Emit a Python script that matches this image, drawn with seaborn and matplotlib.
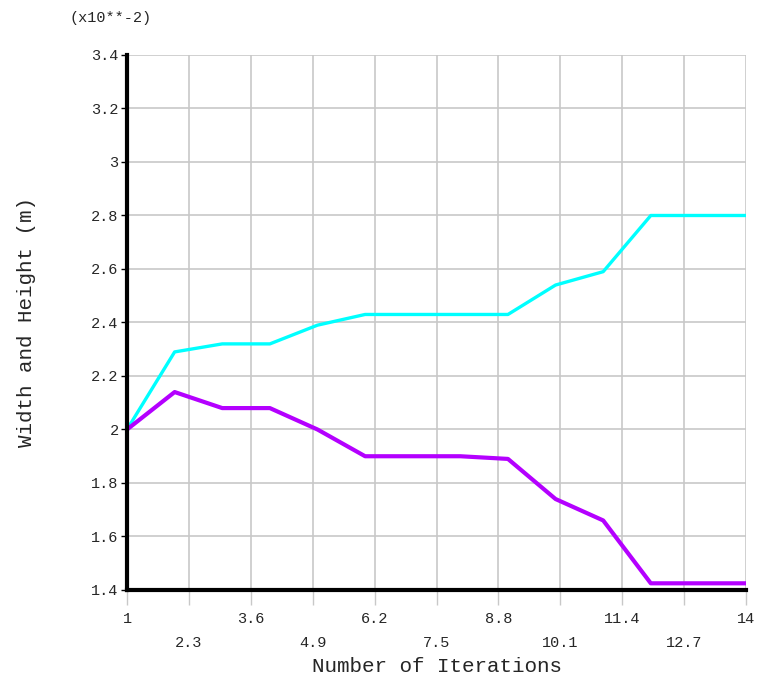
import pandas as pd
import matplotlib
matplotlib.use("Agg")
import matplotlib.pyplot as plt
import seaborn as sns

# Values (x10**-2 m)
iterations = list(range(1, 15))
width_vals = [2.00, 2.29, 2.32, 2.32, 2.39, 2.43, 2.43, 2.43, 2.43, 2.54, 2.59, 2.80, 2.80, 2.80]
height_vals = [2.00, 2.14, 2.08, 2.08, 2.00, 1.90, 1.90, 1.90, 1.89, 1.74, 1.66, 1.425, 1.425, 1.425]
x_ticks = [1, 2.3, 3.6, 4.9, 6.2, 7.5, 8.8, 10.1, 11.4, 12.7, 14]
y_ticks = [1.4, 1.6, 1.8, 2, 2.2, 2.4, 2.6, 2.8, 3, 3.2, 3.4]

df = pd.DataFrame({
    "iter": iterations * 2,
    "value": width_vals + height_vals,
    "series": ["width"] * len(iterations) + ["height"] * len(iterations),
})

sns.set_style("white")
plt.rcParams["font.family"] = ["Liberation Mono", "DejaVu Sans Mono"]

fig = plt.figure(figsize=(7.68, 6.78), dpi=100)
ax = fig.add_axes([0.1654, 0.1298, 0.9714 - 0.1654, 0.9189 - 0.1298])

for name, color, lw in [("width", "#00ffff", 2.4), ("height", "#b400ff", 3.0)]:
    sns.lineplot(data=df[df["series"] == name], x="iter", y="value", color=color,
                 linewidth=lw, ax=ax, zorder=3)

ax.set_xlim(1, 14)
ax.set_ylim(1.4, 3.4)

# grid lines at every tick
for xv in x_ticks:
    ax.axvline(xv, color="#c8c8c8", linewidth=1.2, zorder=1)
for yv in y_ticks:
    ax.axhline(yv, color="#c8c8c8", linewidth=1.2, zorder=1)

ax.set_xticks(x_ticks)
ax.set_xticklabels([("" if i % 2 == 0 else "\n") + f"{v:g}" for i, v in enumerate(x_ticks)])
ax.set_yticks(y_ticks)
ax.set_yticklabels([f"{v:g}" for v in y_ticks])

ax.tick_params(axis="x", bottom=True, length=11, width=1, color="#c8c8c8",
               labelsize=11, pad=5)
ax.tick_params(axis="y", left=True, length=4, width=1, color="black",
               labelsize=11, pad=2)
for lbl in ax.get_xticklabels():
    lbl.set_linespacing(1.9)

for side in ["top", "right"]:
    ax.spines[side].set_visible(False)
ax.spines["left"].set_linewidth(3)
ax.spines["bottom"].set_linewidth(3)
ax.spines["left"].set_color("black")
ax.spines["bottom"].set_color("black")
ax.spines["left"].set_zorder(4)
ax.spines["bottom"].set_zorder(4)

ax.set_xlabel("Number of Iterations", fontsize=15, labelpad=5)
ax.set_ylabel("Width and Height (m)", fontsize=15, labelpad=40)
fig.text(70 / 768, 1 - 18 / 678, "(x10**-2)", fontsize=11, va="center", ha="left")

if ax.get_legend():
    ax.get_legend().remove()

fig.savefig("out.png", dpi=100)
